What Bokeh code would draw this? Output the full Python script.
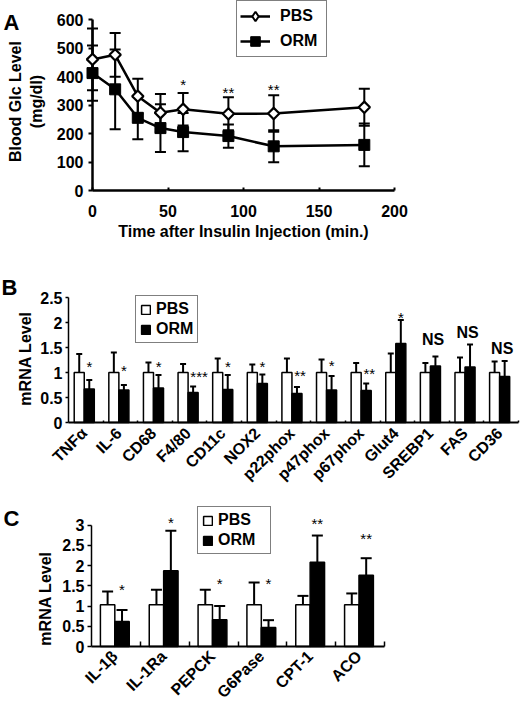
import math
from bokeh.plotting import figure
from bokeh.layouts import column
from bokeh.core.properties import value
from bokeh.models import (ColumnDataSource, Whisker, TeeHead, Legend, LegendItem,
                          FixedTicker, PrintfTickFormatter, LabelSet, Label)
from bokeh.embed import file_html
from bokeh.resources import INLINE

FONT = "Liberation Sans"

# ---------------- Panel A data ----------------
time_min = [0, 15, 30, 45, 60, 90, 120, 180]
pbs_glc = [460, 476, 331, 273, 285, 269, 270, 292]
pbs_glc_err = [108, 77, 61, 66, 57, 58, 64, 65]
orm_glc = [412, 355, 255, 219, 205, 191, 155, 160]
orm_glc_err = [97, 140, 75, 84, 67, 41, 56, 75]
a_sig_time = [60, 90, 120]
a_sig_text = ["*", "**", "**"]
a_sig_y = [352, 325, 336]
a_xticks = [0, 50, 100, 150, 200]
a_yticks = [0, 100, 200, 300, 400, 500, 600]

# ---------------- Panel B data ----------------
b_genes = ["TNFα", "IL-6", "CD68", "F4/80", "CD11c", "NOX2", "p22phox",
           "p47phox", "p67phox", "Glut4", "SREBP1", "FAS", "CD36"]
b_pbs = [1.0, 1.0, 1.0, 1.0, 1.0, 1.0, 1.0, 1.0, 1.0, 1.0, 1.0, 1.0, 1.0]
b_pbs_err = [0.37, 0.40, 0.20, 0.17, 0.28, 0.16, 0.28, 0.26, 0.19, 0.38, 0.19, 0.30, 0.22]
b_orm = [0.67, 0.65, 0.69, 0.60, 0.66, 0.78, 0.58, 0.65, 0.64, 1.58, 1.13, 1.11, 0.92]
b_orm_err = [0.18, 0.10, 0.26, 0.12, 0.29, 0.18, 0.13, 0.28, 0.14, 0.47, 0.19, 0.45, 0.31]
b_sig = ["*", "*", "*", "***", "*", "*", "**", "*", "**", "*", "NS", "NS", "NS"]
b_sig_y = [1.02, 0.94, 1.02, 0.82, 1.02, 1.02, 0.83, 1.03, 0.88, 1.99, 1.55, 1.69, 1.38]
b_yticks = [0, 0.5, 1, 1.5, 2, 2.5]

# ---------------- Panel C data ----------------
c_genes = ["IL-1β", "IL-1Ra", "PEPCK", "G6Pase", "CPT-1", "ACO"]
c_pbs = [1.03, 1.03, 1.03, 1.03, 1.03, 1.03]
c_pbs_err = [0.33, 0.37, 0.37, 0.55, 0.22, 0.28]
c_orm = [0.62, 1.87, 0.66, 0.47, 2.08, 1.76]
c_orm_err = [0.28, 0.99, 0.34, 0.18, 0.66, 0.42]
c_sig = ["*", "*", "*", "*", "**", "**"]
c_sig_y = [1.26, 2.93, 1.43, 1.43, 2.89, 2.52]
c_yticks = [0, 0.5, 1, 1.5, 2, 2.5, 3]


class Panel:
    """Pixel layout of one panel: the plotting frame covers the whole figure and both
    axes are pinned at the data origin, whose position matches the reference."""

    def __init__(self, top, height, x0px, x1px, xspan, y0px, y1px, yspan):
        self.sx = (x1px - x0px) / xspan
        self.sy = (y0px - y1px) / yspan
        self.x0px, self.y0px = x0px, y0px
        bottom = top + height
        self.frame_bottom = bottom
        self.x_range = ((0 - x0px) / self.sx, (520 - x0px) / self.sx)
        self.y_range = ((y0px - bottom) / self.sy, (y0px - top) / self.sy)
        self.fig = figure(width=520, height=height, x_range=self.x_range, y_range=self.y_range,
                          output_backend="svg", toolbar_location=None,
                          min_border_left=0, min_border_right=0,
                          min_border_top=0, min_border_bottom=0)
        p = self.fig
        p.frame_align = False
        p.outline_line_color = None
        p.xgrid.visible = False
        p.ygrid.visible = False
        p.background_fill_color = "white"
        p.border_fill_color = "white"
        for ax in (p.xaxis[0], p.yaxis[0]):
            ax.fixed_location = 0
            ax.axis_line_color = "black"
            ax.major_tick_line_color = "black"
            ax.minor_tick_line_color = None
            ax.major_label_text_font = FONT
            ax.major_label_text_font_style = "bold"
            ax.major_label_text_font_size = "16px"
            ax.major_label_text_color = "black"

    def dx(self, px):
        return (px - self.x0px) / self.sx

    def dy(self, py):
        return (self.y0px - py) / self.sy

    def text(self, s, px, py, size="16px", angle=0.0, align="center", baseline="middle"):
        self.fig.add_layout(Label(x=self.dx(px), y=self.dy(py), text=s, angle=angle,
                                  text_align=align, text_baseline=baseline,
                                  text_font=FONT, text_font_style="bold",
                                  text_font_size=size, text_color="black"))

    def legend_pos(self, left_px, bottom_px):
        return (left_px, self.frame_bottom - bottom_px)


def legend_box(items, loc, glyph_w, glyph_h, standoff, spacing, padding, label_width=20):
    return Legend(items=items, location=loc, orientation="vertical",
                  label_text_font=FONT, label_text_font_style="bold", label_text_font_size="16px",
                  label_text_color="black", glyph_width=glyph_w, glyph_height=glyph_h,
                  label_height=17, label_width=label_width, label_standoff=standoff,
                  spacing=spacing, padding=padding, margin=0,
                  border_line_color="black", border_line_width=1.5, background_fill_alpha=1)


# ======================= Panel A =======================
PA = Panel(top=0, height=252, x0px=92, x1px=394, xspan=200, y0px=190, y1px=19, yspan=600)
pA = PA.fig
srcA = ColumnDataSource(dict(t=time_min, pbs=pbs_glc, orm=orm_glc,
                             pbs_lo=[v - e for v, e in zip(pbs_glc, pbs_glc_err)],
                             pbs_hi=[v + e for v, e in zip(pbs_glc, pbs_glc_err)],
                             orm_lo=[v - e for v, e in zip(orm_glc, orm_glc_err)],
                             orm_hi=[v + e for v, e in zip(orm_glc, orm_glc_err)]))
for lo, hi in (("pbs_lo", "pbs_hi"), ("orm_lo", "orm_hi")):
    pA.add_layout(Whisker(source=srcA, base="t", lower=lo, upper=hi, line_width=2,
                          line_color="black",
                          upper_head=TeeHead(size=11, line_width=2, line_color="black"),
                          lower_head=TeeHead(size=11, line_width=2, line_color="black"),
                          level="underlay"))
l_pbs = pA.line("t", "pbs", source=srcA, line_width=2.5, line_color="black")
l_orm = pA.line("t", "orm", source=srcA, line_width=2.5, line_color="black")
m_pbs = pA.scatter("t", "pbs", source=srcA, marker="square", angle=math.pi / 4, size=8,
                   fill_color="white", line_color="black", line_width=2.2, level="overlay")
m_orm = pA.scatter("t", "orm", source=srcA, marker="square", size=11,
                   fill_color="black", line_color="black", level="overlay")
# legend-only glyph: the legend draws markers unrotated, so use a diamond there
m_pbs_key = pA.scatter("t", "pbs", source=srcA, marker="diamond", size=12,
                       fill_color="white", line_color="black", line_width=2, visible=False)
pA.add_layout(LabelSet(source=ColumnDataSource(dict(x=a_sig_time, y=a_sig_y, t=a_sig_text)),
                       x="x", y="y", text="t", text_align="center", text_baseline="alphabetic",
                       text_font=value(FONT), text_font_size="15px", text_color="black"))
xa = pA.xaxis[0]
xa.ticker = FixedTicker(ticks=a_xticks)
xa.bounds = (a_xticks[0], a_xticks[-1])
xa.axis_line_width = 2.5
xa.major_tick_line_width = 2
xa.major_tick_in = 3
xa.major_tick_out = 0
xa.major_label_standoff = 14
ya = pA.yaxis[0]
ya.ticker = FixedTicker(ticks=a_yticks)
ya.bounds = (a_yticks[0], a_yticks[-1])
ya.axis_line_width = 2.5
ya.major_tick_line_width = 2
ya.major_tick_in = 0
ya.major_tick_out = 4
ya.major_label_standoff = 5
PA.text("Time after Insulin Injection (min.)", 243, 231)
PA.text("Blood Glc Level", 15, 101, angle=math.pi / 2)
PA.text("(mg/dl)", 36, 101, angle=math.pi / 2)
PA.text("A", 3, 22, size="22px", align="left", baseline="alphabetic")
pA.add_layout(legend_box([LegendItem(label="PBS", renderers=[l_pbs, m_pbs_key]),
                          LegendItem(label="ORM", renderers=[l_orm, m_orm])],
                         PA.legend_pos(236, 57), 30, 24, 10, 1, 3, label_width=43))

# ======================= Panel B =======================
PB = Panel(top=252, height=248, x0px=68, x1px=518, xspan=13, y0px=422, y1px=297, yspan=2.5)
pB = PB.fig
nb = len(b_genes)
srcB = ColumnDataSource(dict(
    xp=[i + 0.31 for i in range(nb)], xo=[i + 0.60 for i in range(nb)],
    pbs=b_pbs, orm=b_orm,
    pbs_hi=[v + e for v, e in zip(b_pbs, b_pbs_err)],
    orm_hi=[v + e for v, e in zip(b_orm, b_orm_err)]))
for base, lo, hi in (("xp", "pbs", "pbs_hi"), ("xo", "orm", "orm_hi")):
    pB.add_layout(Whisker(source=srcB, base=base, lower=lo, upper=hi, line_width=2,
                          line_color="black", lower_head=None,
                          upper_head=TeeHead(size=6, line_width=2, line_color="black"),
                          level="underlay"))
vb_pbs = pB.vbar(x="xp", top="pbs", width=0.29, source=srcB, fill_color="white",
                 line_color="black", line_width=1.5)
vb_orm = pB.vbar(x="xo", top="orm", width=0.29, source=srcB, fill_color="black",
                 line_color="black", line_width=1.5)
star_idx = [i for i in range(nb) if b_sig[i] != "NS"]
ns_idx = [i for i in range(nb) if b_sig[i] == "NS"]
pB.add_layout(LabelSet(source=ColumnDataSource(dict(
    x=[i + 0.52 for i in star_idx], y=[b_sig_y[i] for i in star_idx],
    t=[b_sig[i] for i in star_idx])),
    x="x", y="y", text="t", text_align="left", text_baseline="alphabetic",
    text_font=value(FONT), text_font_size="15px", text_color="black"))
pB.add_layout(LabelSet(source=ColumnDataSource(dict(
    x=[i + 0.53 for i in ns_idx], y=[b_sig_y[i] for i in ns_idx],
    t=[b_sig[i] for i in ns_idx])),
    x="x", y="y", text="t", text_align="center", text_baseline="alphabetic",
    text_font=value(FONT), text_font_style="bold", text_font_size="16px", text_color="black"))
xb = pB.xaxis[0]
b_label_pos = [i + 0.455 for i in range(nb)]
xb.ticker = FixedTicker(ticks=b_label_pos, minor_ticks=list(range(1, nb + 1)))
xb.bounds = (0, nb)
xb.major_label_overrides = {pos: g for pos, g in zip(b_label_pos, b_genes)}
xb.major_label_orientation = math.pi / 4
xb.major_tick_line_color = None
xb.minor_tick_line_color = "black"
xb.minor_tick_line_width = 1.5
xb.minor_tick_in = 2
xb.minor_tick_out = 0
xb.axis_line_width = 2
xb.major_label_standoff = 2
yb = pB.yaxis[0]
yb.ticker = FixedTicker(ticks=b_yticks)
yb.bounds = (b_yticks[0], b_yticks[-1])
yb.formatter = PrintfTickFormatter(format="%g")
yb.axis_line_width = 1.5
yb.major_tick_line_width = 1.5
yb.major_tick_in = 0
yb.major_tick_out = 3
yb.major_label_standoff = 3
PB.text("mRNA Level", 25, 358, angle=math.pi / 2)
PB.text("B", 1, 287, size="22px", align="left", baseline="alphabetic")
pB.add_layout(legend_box([LegendItem(label="PBS", renderers=[vb_pbs]),
                          LegendItem(label="ORM", renderers=[vb_orm])],
                         PB.legend_pos(135, 343), 11, 11, 5, 2, 4))

# ======================= Panel C =======================
PC = Panel(top=500, height=205, x0px=91, x1px=384, xspan=6, y0px=646, y1px=524.5, yspan=3)
pC = PC.fig
nc = len(c_genes)
srcC = ColumnDataSource(dict(
    xp=[i + 0.33 for i in range(nc)], xo=[i + 0.625 for i in range(nc)],
    pbs=c_pbs, orm=c_orm,
    pbs_hi=[v + e for v, e in zip(c_pbs, c_pbs_err)],
    orm_hi=[v + e for v, e in zip(c_orm, c_orm_err)]))
for base, lo, hi in (("xp", "pbs", "pbs_hi"), ("xo", "orm", "orm_hi")):
    pC.add_layout(Whisker(source=srcC, base=base, lower=lo, upper=hi, line_width=2,
                          line_color="black", lower_head=None,
                          upper_head=TeeHead(size=11, line_width=2, line_color="black"),
                          level="underlay"))
vc_pbs = pC.vbar(x="xp", top="pbs", width=0.295, source=srcC, fill_color="white",
                 line_color="black", line_width=1.5)
vc_orm = pC.vbar(x="xo", top="orm", width=0.295, source=srcC, fill_color="black",
                 line_color="black", line_width=1.5)
pC.add_layout(LabelSet(source=ColumnDataSource(dict(
    x=[i + 0.625 for i in range(nc)], y=c_sig_y, t=c_sig)),
    x="x", y="y", text="t", text_align="center", text_baseline="alphabetic",
    text_font=value(FONT), text_font_size="15px", text_color="black"))
xc = pC.xaxis[0]
c_label_pos = [i + 0.478 for i in range(nc)]
xc.ticker = FixedTicker(ticks=c_label_pos, minor_ticks=list(range(1, nc + 1)))
xc.bounds = (0, nc)
xc.major_label_overrides = {pos: g for pos, g in zip(c_label_pos, c_genes)}
xc.major_label_orientation = math.pi / 4
xc.major_tick_line_color = None
xc.minor_tick_line_color = "black"
xc.minor_tick_line_width = 1.5
xc.minor_tick_in = 5
xc.minor_tick_out = 0
xc.axis_line_width = 2
xc.major_label_standoff = 1
yc = pC.yaxis[0]
yc.ticker = FixedTicker(ticks=c_yticks)
yc.bounds = (c_yticks[0], c_yticks[-1])
yc.formatter = PrintfTickFormatter(format="%g")
yc.axis_line_width = 1.5
yc.major_tick_line_width = 1.5
yc.major_tick_in = 0
yc.major_tick_out = 4
yc.major_label_standoff = 3
PC.text("mRNA Level", 45, 598, angle=math.pi / 2)
PC.text("C", 3, 518, size="22px", align="left", baseline="alphabetic")
pC.add_layout(legend_box([LegendItem(label="PBS", renderers=[vc_pbs]),
                          LegendItem(label="ORM", renderers=[vc_orm])],
                         PC.legend_pos(197, 554), 11, 11, 5, 2, 4, label_width=48))

layout = column(pA, pB, pC, spacing=0)
open("out.html", "w").write(file_html(layout, INLINE))
